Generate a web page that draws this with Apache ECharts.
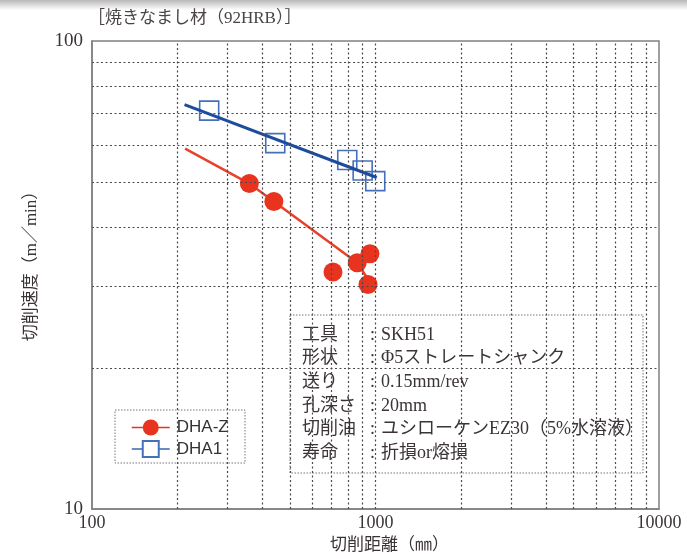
<!DOCTYPE html>
<html>
<head>
<meta charset="utf-8">
<script src="https://cdn.jsdelivr.net/npm/echarts@6/dist/echarts.min.js"></script>
<style>
  html, body { margin: 0; padding: 0; background: #fff; }
  #chart { width: 687px; height: 559px; }
</style>
</head>
<body>
<div id="chart"></div>
<script>
// Tool life: cutting distance (mm) vs cutting speed (m/min), log-log
const xTicks = [100, 1000, 10000];
const yTicks = [10, 100];
const xGrid = [200, 300, 400, 500, 600, 700, 800, 900, 1000, 2000, 3000, 4000, 5000, 6000, 7000, 8000, 9000];
const yGrid = [20, 30, 40, 50, 60, 70, 80, 90];

// DHA-Z measured points [distance, speed]
const dhaZPoints = [[359, 49.6], [438, 45.4], [708, 32.1], [862, 33.6], [956, 35.1], [941, 30.2]];
// DHA-Z trend line
const dhaZTrend = [[213, 58.9], [359, 49.6], [438, 45.4], [862, 33.6], [943, 30.9]];

// DHA1 measured points
const dha1Points = [[259, 71.0], [443, 60.5], [795, 55.7], [901, 52.9], [998, 50.2]];
// DHA1 trend line
const dha1Trend = [[212, 73.1], [1010, 51.1]];

const infoLabels = ['工具', '形状', '送り', '孔深さ', '切削油', '寿命'];
const infoValues = ['SKH51', 'Φ5ストレートシャンク', '0.15mm/rev', '20mm', 'ユシローケンEZ30（5%水溶液）', '折損or熔損'];

const serif = "'Liberation Serif', 'Noto Sans CJK JP', serif";
const textColor = '#3b3434';
const red = '#e8341e';
const blue = '#1d4c9e';

const infoGraphics = [];
infoLabels.forEach((lab, i) => {
  const y = 335 + i * 23.6;
  infoGraphics.push({ type: 'text', z: 3, x: 302, y: y, style: { text: lab, font: "18px " + serif, fill: textColor, verticalAlign: 'middle' } });
  infoGraphics.push({ type: 'text', z: 3, x: 370, y: y, style: { text: ':', font: "18px " + serif, fill: textColor, verticalAlign: 'middle' } });
  infoGraphics.push({ type: 'text', z: 3, x: 381, y: y, style: { text: infoValues[i], font: "18px " + serif, fill: textColor, verticalAlign: 'middle' } });
});

const chart = echarts.init(document.getElementById('chart'), null, { renderer: 'canvas' });
chart.setOption({
  animation: false,
  backgroundColor: '#fff',
  grid: { left: 92, right: 28, top: 41, bottom: 49, show: true, borderColor: '#808080', borderWidth: 1.5, backgroundColor: 'transparent' },
  xAxis: {
    type: 'log', logBase: 10, min: xTicks[0], max: xTicks[xTicks.length - 1],
    name: '切削距離（㎜）', nameLocation: 'middle', nameGap: 27,
    nameTextStyle: { fontFamily: serif, fontSize: 17, color: textColor, padding: [0, 0, 0, 28] },
    axisLine: { show: true, lineStyle: { color: '#808080', width: 1.5 } },
    axisTick: { show: false },
    splitLine: { show: false },
    axisLabel: { fontFamily: serif, fontSize: 18, color: textColor, margin: 5, formatter: v => String(v) }
  },
  yAxis: {
    type: 'log', logBase: 10, min: yTicks[0], max: yTicks[yTicks.length - 1],
    axisLine: { show: true, lineStyle: { color: '#808080', width: 1.5 } },
    axisTick: { show: false },
    splitLine: { show: false },
    axisLabel: { fontFamily: serif, fontSize: 19, color: textColor, margin: 9, formatter: v => String(v) }
  },
  legend: {
    orient: 'vertical', left: 126, top: 414,
    itemWidth: 38, itemHeight: 20, itemGap: 4,
    textStyle: { fontFamily: "'Liberation Sans', Arial, sans-serif", fontSize: 17, color: '#333', padding: [0, 0, 0, 2] },
    data: [
      { name: 'DHA-Z', lineStyle: { opacity: 1, width: 1.5, color: red } },
      { name: 'DHA1', lineStyle: { opacity: 1, width: 1.5, color: '#3a64b0' }, itemStyle: { color: '#fff' } }
    ]
  },
  graphic: [
    { type: 'rect', z: 10, shape: { x: 0, y: 0, width: 687, height: 10 },
      style: { fill: new echarts.graphic.LinearGradient(0, 0, 0, 1, [
        { offset: 0, color: 'rgba(0,0,0,0.28)' }, { offset: 1, color: 'rgba(0,0,0,0)' }]) } },
    { type: 'text', z: 3, x: 88, y: 19, style: { text: '［焼きなまし材（92HRB）］', font: "17px " + serif, fill: '#4a4444', verticalAlign: 'middle' } },
    { type: 'text', z: 3, x: 32, y: 262, rotation: Math.PI / 2,
      style: { text: '切削速度（m／min）', font: "17px " + serif, fill: textColor, align: 'center', verticalAlign: 'middle' } },
    { type: 'rect', z: 2, shape: { x: 115, y: 410, width: 130, height: 53 },
      style: { fill: '#fff', stroke: '#777', lineWidth: 1, lineDash: [1.5, 1.5] } },
    { type: 'rect', z: 2, shape: { x: 290, y: 315, width: 353, height: 158 },
      style: { fill: '#fff', stroke: '#777', lineWidth: 1, lineDash: [1.5, 1.5] } }
  ].concat(infoGraphics),
  series: [
    {
      type: 'line', data: [], silent: true, z: 1,
      markLine: {
        silent: true, symbol: 'none', animation: false,
        label: { show: false },
        lineStyle: { color: '#4a4a4a', width: 1.2, type: [2, 2.5] },
        data: xGrid.map(v => ({ xAxis: v })).concat(yGrid.map(v => ({ yAxis: v })))
      }
    },
    {
      name: 'DHA-Z-trend', type: 'line', data: dhaZTrend, symbol: 'none', z: 3, silent: true,
      lineStyle: { color: '#e8402a', width: 2.5 }
    },
    {
      name: 'DHA-Z', type: 'line', data: dhaZPoints, symbol: 'circle', symbolSize: 19, z: 4,
      itemStyle: { color: red }, lineStyle: { opacity: 0 }
    },
    {
      name: 'DHA1', type: 'line', data: dha1Points, symbol: 'rect', symbolSize: 19, z: 3,
      itemStyle: { color: 'rgba(255,255,255,0)', borderColor: '#4470bb', borderWidth: 1.6 },
      lineStyle: { opacity: 0 }
    },
    {
      name: 'DHA1-trend', type: 'line', data: dha1Trend, symbol: 'none', z: 4, silent: true,
      lineStyle: { color: blue, width: 3 }
    }
  ]
});
</script>
</body>
</html>
